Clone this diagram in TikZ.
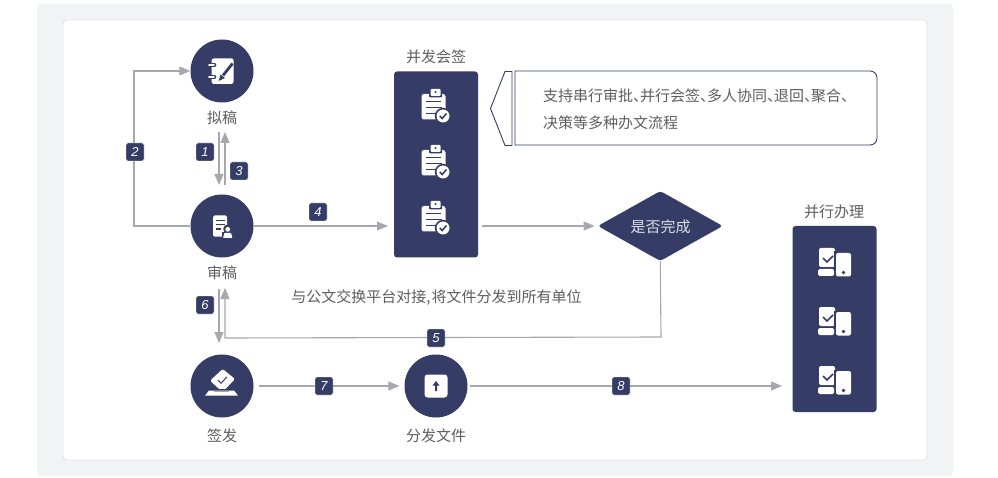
\documentclass[tikz,border=0pt]{standalone}
\usepackage{fontspec}
\setmainfont{Liberation Sans}
\newfontfamily\cjk{Noto Sans CJK SC}
\usetikzlibrary{shapes.geometric,arrows.meta,calc}
\definecolor{navy}{HTML}{353C66}
\definecolor{linegray}{HTML}{A6A8AC}
\definecolor{txt}{HTML}{5E5E5E}
\definecolor{outer}{HTML}{F2F3F5}
\definecolor{innerline}{HTML}{E3E4E8}
\definecolor{softwhite}{HTML}{DDDFE8}
\newcommand{\dun}{、\hspace{-8pt}}
\tikzset{
 x=1pt,y=-1pt,
 flow/.style={draw=linegray,line width=1.1pt,-{Triangle[length=11pt,width=9pt,fill=linegray]}},
 hub/.style={circle,fill=navy,minimum size=63pt,inner sep=0pt},
 panel/.style={rectangle,rounded corners=3pt,fill=navy,inner sep=0pt},
 badge/.style={rectangle,rounded corners=2pt,fill=navy,draw=white,line width=.4pt,minimum size=18pt,inner sep=0pt,text=white,font=\fontsize{13}{13}\selectfont\itshape},
 lab/.style={text=txt,font=\cjk\fontsize{15}{15}\selectfont,inner sep=0pt},
 pics/clipicon/.style={code={
   \fill[white,rounded corners=2.5pt] (-14.5,-11) rectangle (9.5,14.5);
   \fill[navy,rounded corners=1pt] (-7,-13) rectangle (6,-7.5);
   \fill[white,rounded corners=1pt] (-5.5,-16) rectangle (4.5,-9);
   \fill[navy] (-.5,-13) circle (1.2);
   \draw[navy,line width=1.8pt] (-10,-3.5) -- (5,-3.5) (-10,2.5) -- (6,2.5) (-10,8.5) -- (0,8.5);
   \fill[navy] (7,11) circle (8.2);
   \fill[white] (7,11) circle (6.5);
   \draw[navy,line width=1.5pt] (3.8,11) -- (6.2,13.5) -- (10.5,8.5);
 }},
 pics/devicon/.style={code={
   \fill[white,rounded corners=2pt] (-15,-14) rectangle (1,5);
   \draw[navy,line width=1.6pt] (-11,-4) -- (-7,0) -- (-1,-6);
   \fill[navy] (0,-10.5) rectangle (19,16);
   \fill[white,rounded corners=1.5pt] (-16,7) rectangle (0,14);
   \fill[white,rounded corners=2pt] (2,-9) rectangle (17,14.5);
   \fill[navy] (9.5,10.5) circle (1.8);
 }},
}
\begin{document}
\begin{tikzpicture}
\useasboundingbox (0,0) rectangle (998,478);
\fill[white] (0,0) rectangle (998,478);
\fill[outer,rounded corners=4pt] (37,4) rectangle (953,476);
\draw[innerline,fill=white,rounded corners=4pt,line width=.8pt] (63,20) rectangle (927,460);

% nodes
\node[hub] (draft) at (222,71) {};
\node[hub] (review) at (222,226) {};
\node[hub] (sign) at (222,386) {};
\node[hub] (send) at (436,386) {};
\node[panel,minimum width=84pt,minimum height=186pt] (sigbox) at (436,164.5) {};
\node[panel,minimum width=84pt,minimum height=186pt] (dobox) at (834.5,319) {};
\node[diamond,fill=navy,aspect=1.78,minimum width=125pt,minimum height=70pt,inner sep=0pt,rounded corners=3pt] (done) at (660.3,226) {};
\node[text=softwhite,font=\cjk\fontsize{15}{15}\selectfont,inner sep=0pt] (donetxt) at (660.5,226.8) {是否完成};

% labels
\node[lab] (ldraft) at (222,117.8) {拟稿};
\node[lab] (lreview) at (222,272.8) {审稿};
\node[lab] (lsign) at (222,435.8) {签发};
\node[lab] (lsend) at (436,435.8) {分发文件};
\node[lab] (lsig) at (436,56.8) {并发会签};
\node[lab] (ldo) at (834,211.8) {并行办理};
\node[lab] (lnote) at (436.5,297.8) {与公文交换平台对接,\hspace{1pt}将文件分发到所有单位};

% callout
\draw[navy,line width=.9pt,fill=white,line join=round] (505,71.5) -- (512,71.5) -- (512,145.5) -- (505,145.5) -- (490.5,108.5) -- cycle;
\draw[navy,line width=.9pt,fill=white] (515,71) -- (870,71) .. controls (874,71) and (877,74) .. (877,78) -- (877,138) .. controls (877,142) and (874,145) .. (870,145) -- (515,145) -- cycle;
\node[lab,anchor=west] (c1) at (543,95.8) {支持串行审批\dun 并行会签\dun 多人协同\dun 退回\dun 聚合\dun };
\node[lab,anchor=west] (c2) at (543,122.8) {决策等多种办文流程};

% connector helpers
\coordinate (loopL) at (134,226);
\coordinate (loopT) at (134,71);
\coordinate (a1s) at (219,132); \coordinate (a1e) at (219,185);
\coordinate (a3s) at (225,185); \coordinate (a3e) at (225,132);
\coordinate (a6s) at (219,289); \coordinate (a6e) at (219,343);
\coordinate (a5a) at (661,337); \coordinate (a5b) at (225,338); \coordinate (a5e) at (225,288);
\coordinate (a4e) at (388,226);
\coordinate (a9s) at (482,226);
\coordinate (a8e) at (782,386);

% connectors
\draw[flow] (review.west) -- (loopL) -- (loopT) -- (draft.west);
\draw[flow] (a1s) -- (a1e);
\draw[flow] (a3s) -- (a3e);
\draw[flow] (review.east) -- (a4e);
\draw[flow] (a9s) -- ([xshift=-3pt]done.west);
\draw[flow] (done.south) -- (a5a) -- (a5b) -- (a5e);
\draw[flow] (a6s) -- (a6e);
\draw[flow] ([xshift=5pt]sign.east) -- ([xshift=-5pt]send.west);
\draw[flow] ([xshift=2pt]send.east) -- (a8e);

% badges
\node[badge] (b2) at (135,152) {2};
\node[badge] (b1) at (205,152) {1};
\node[badge] (b3) at (239,171) {3};
\node[badge] (b4) at (318,212) {4};
\node[badge] (b6) at (205,305) {6};
\node[badge] (b5) at (436,338) {5};
\node[badge] (b7) at (324,386) {7};
\node[badge] (b8) at (621,386) {8};

% panel icons
\pic at (436,105) {clipicon};
\pic at (436,161) {clipicon};
\pic at (436,217) {clipicon};
\pic at (834,262) {devicon};
\pic at (834,321) {devicon};
\pic at (834,380) {devicon};

% notebook icon
\fill[white,rounded corners=2.5pt] (211.5,58.3) rectangle (233.7,84);
\foreach \yy in {65,77}{\draw[navy,line width=3.6pt,line cap=round] (208.5,\yy) -- (214.5,\yy); \draw[white,line width=1.8pt,line cap=round] (209,\yy) -- (214,\yy);}
\draw[navy,line width=2.8pt] (223,75.5) -- (232.5,63.5);
\fill[navy] (218.6,81) -- (220.6,74.6) -- (225,78) -- cycle;

% review icon
\fill[white,rounded corners=1.5pt] (213,215.5) rectangle (227,236.7);
\draw[navy,line width=1.3pt] (215.5,220.5) -- (224.5,220.5) (215.5,224.5) -- (224.5,224.5) (215.5,229) -- (220.5,229);
\fill[navy] (227.7,229) circle (4.5);
\fill[navy] (221.5,232) rectangle (234,240);
\fill[white] (227.7,229.3) circle (2.4);
\fill[white,rounded corners=.8pt] (223,238) -- (224.5,232.8) -- (231,232.8) -- (232.5,238) -- cycle;

% ballot icon
\fill[white,rounded corners=1.5pt] (222.7,369) -- (235,379) -- (222.5,392) -- (210,380.7) -- cycle;
\draw[navy,line width=1pt] (218,380) -- (221,383.3) -- (226.8,377);
\fill[navy] (204,388.5) rectangle (240,398);
\fill[white] (209,390.5) -- (234,390.5) -- (238,395.7) -- (205,395.7) -- cycle;
\draw[linegray,line width=1pt] (214,391.5) -- (229,391.5);

% upload icon
\fill[white,rounded corners=3pt] (424.5,374.5) rectangle (447.5,397.5);
\fill[navy] (436,381) -- (439.5,385.5) -- (437,385.5) -- (437,391) -- (435,391) -- (435,385.5) -- (432.5,385.5) -- cycle;
\end{tikzpicture}
\end{document}
